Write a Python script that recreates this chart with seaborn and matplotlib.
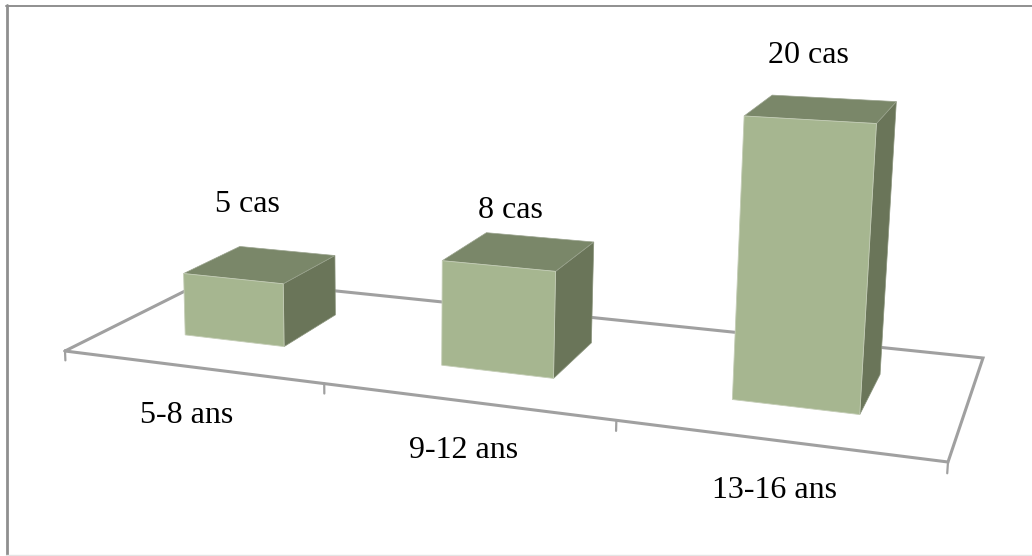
import numpy as np
import pandas as pd
import matplotlib
matplotlib.use("Agg")
import matplotlib.pyplot as plt
from matplotlib.patches import Rectangle
from matplotlib.transforms import Transform, Affine2D
import seaborn as sns

# Cases per age group
age_groups = ["5-8 ans", "9-12 ans", "13-16 ans"]
case_counts = [5, 8, 20]

W, H = 1032, 556
BAR_WIDTH = 0.40
Z_FRONT, Z_BACK = 0.305, 0.71

FRONT_COLOR = "#a6b690"
TOP_COLOR = "#7a8769"
SIDE_COLOR = "#6a7559"
LINE_COLOR = "#a0a0a0"
FRAME_COLOR = "#8f8f8f"

# Floor corners on the page, used to calibrate the oblique view
floor_src = np.array([[-0.5, 0], [2.5, 0], [2.5, 1], [-0.5, 1]], float)
floor_dst = np.array([[65, 351], [948, 462], [983, 358], [211, 278]], float)


def floor_matrix(src, dst):
    rows, rhs = [], []
    for (x, z), (u, v) in zip(src, dst):
        rows.append([x, z, 1, 0, 0, 0, -u * x, -u * z])
        rows.append([0, 0, 0, x, z, 1, -v * x, -v * z])
        rhs += [u, v]
    p = np.linalg.solve(np.array(rows), np.array(rhs))
    return np.append(p, 1).reshape(3, 3)


FLOOR = floor_matrix(floor_src, floor_dst)

# Height axis: top-left front corners of the bars on the page
corner_page = np.array([[183, 273], [443, 261], [744, 116]], float)
eqs, rhs = [], []
for i, val in enumerate(case_counts):
    base = FLOOR @ np.array([i - BAR_WIDTH / 2, Z_FRONT, 1])
    u, v = corner_page[i]
    eqs.append([val, 0, -u * val])
    rhs.append(u * base[2] - base[0])
    eqs.append([0, val, -v * val])
    rhs.append(v * base[2] - base[1])
HEIGHT = np.linalg.lstsq(np.array(eqs), np.array(rhs), rcond=None)[0]


def project(x, y, z):
    x, y, z = np.broadcast_arrays(x, y, z)
    w = np.stack([x, z, np.ones_like(x, dtype=float)], axis=-1) @ FLOOR.T
    w = w + np.stack([y, y, y], axis=-1) * HEIGHT
    return w[..., :2] / w[..., 2:]


class Plane(Transform):
    """Maps 2-D coordinates on one plane of the 3-D box to page pixels."""
    input_dims = 2
    output_dims = 2

    def __init__(self, lift):
        super().__init__()
        self.lift = lift

    def transform_non_affine(self, values):
        values = np.asarray(values, float)
        return project(*self.lift(values[:, 0], values[:, 1]))


page = Affine2D().scale(1, -1).translate(0, H)


def plane(lift):
    return Plane(lift) + page


sns.set_theme(style="white")
fig = plt.figure(figsize=(W / 100, H / 100), dpi=100, facecolor="white")
ax = fig.add_axes([0, 0, 1, 1])
ax.set_axis_off()

df = pd.DataFrame({"age": age_groups, "cases": case_counts})
sns.barplot(data=df, x="age", y="cases", width=BAR_WIDTH, color=FRONT_COLOR,
            saturation=1, ax=ax, zorder=3)

# Front faces come from the bar plot, re-projected onto the front plane
front = plane(lambda a, b: (a, b, Z_FRONT))
for patch in ax.patches:
    x0, w, h = patch.get_x(), patch.get_width(), patch.get_height()
    patch.set_transform(front)
    patch.set_clip_on(False)
    patch.set_edgecolor("#c4cdb6")
    patch.set_linewidth(0.6)
    patch.set_zorder(4)
    right = x0 + w
    side = plane(lambda a, b, r=right: (np.full_like(a, r), b, a))
    ax.add_patch(Rectangle((Z_FRONT, 0), Z_BACK - Z_FRONT, h, transform=side,
                           facecolor=SIDE_COLOR, edgecolor="#8a947c", lw=0.5,
                           clip_on=False, zorder=3))
    top = plane(lambda a, b, t=h: (a, np.full_like(a, t), b))
    ax.add_patch(Rectangle((x0, Z_FRONT), w, Z_BACK - Z_FRONT, transform=top,
                           facecolor=TOP_COLOR, edgecolor="#9aa38e", lw=0.5,
                           clip_on=False, zorder=3))

# Floor outline and category ticks
floor = plane(lambda a, b: (a, np.zeros_like(a), b))
xs = [-0.5, 2.5, 2.5, -0.5, -0.5]
zs = [0, 0, 1, 1, 0]
ax.plot(xs, zs, transform=floor, color=LINE_COLOR, lw=2.2, clip_on=False,
        zorder=1, solid_joinstyle="miter")
tick_stops = [-0.5, 0.51, 1.51, 2.5]
for t in tick_stops:
    ax.plot([t, t], [0, -0.75], transform=plane(lambda a, b: (a, b, np.zeros_like(a))),
            color=LINE_COLOR, lw=1.6, clip_on=False, zorder=1)

# Labels sit on fixed baselines
font = {"family": "Liberation Serif", "fontsize": 23, "color": "#000000",
        "ha": "center", "va": "baseline", "transform": page}
value_pos = [(247, 212), (510, 218), (808, 63)]
for val, (px, py) in zip(case_counts, value_pos):
    ax.text(px, py, f"{val} cas", **font)
category_pos = [(187, 423), (464, 458), (774, 498)]
for name, (px, py) in zip(age_groups, category_pos):
    ax.text(px, py, name, **font)

# Outer frame of the chart area
ax.plot([7, 7], [5, 556], transform=page, color=FRAME_COLOR, lw=2.0, clip_on=False)
ax.plot([6, 1032], [5.8, 5.8], transform=page, color=FRAME_COLOR, lw=1.4, clip_on=False)
ax.plot([6, 1032], [555, 555], transform=page, color="#e4e4e4", lw=1.0, clip_on=False)

ax.set_xlim(-0.5, 2.5)
ax.set_ylim(0, 25)
ax.set_xlabel("")
ax.set_ylabel("")
fig.savefig("out.png", dpi=100, facecolor="white")
